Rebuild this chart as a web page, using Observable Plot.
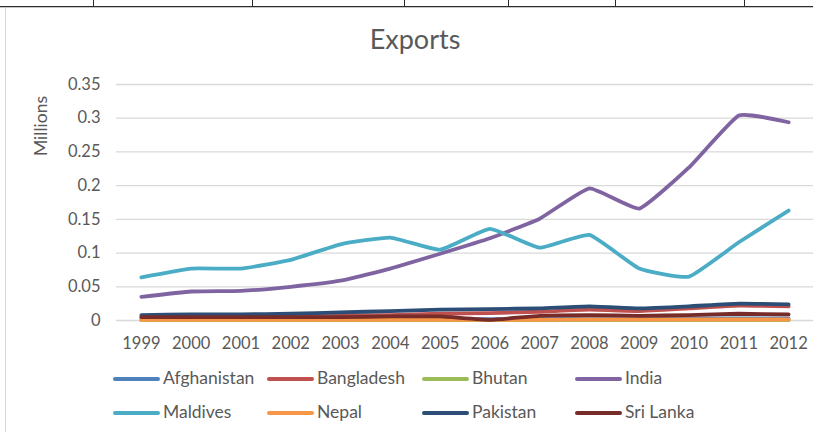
<!DOCTYPE html>
<html>
<head>
<meta charset="utf-8">
<script src="https://cdn.jsdelivr.net/npm/d3@7"></script>
<script src="https://cdn.jsdelivr.net/npm/@observablehq/plot@0.6"></script>
<style>
  html, body { margin: 0; padding: 0; background: #fff; }
  #wrap { position: relative; width: 813px; height: 432px; overflow: hidden; background: #fff; font-family: Lato, "Open Sans", sans-serif; color: #595959; }
  #chart { position: absolute; left: 0; top: 60px; }
  .abs { position: absolute; }
  .leg { position: absolute; font-size: 17.5px; line-height: 18px; white-space: nowrap; }
  .legline { position: absolute; height: 4px; border-radius: 2px; }
</style>
</head>
<body>
<div id="wrap">
  <div class="abs" style="left:0;top:6px;width:813px;height:1px;background:#2b2b2b"></div>
  <div class="abs" style="left:0;top:7px;width:813px;height:1px;background:#c8c8c8"></div>
  <div class="abs" style="left:5px;top:8px;width:1px;height:424px;background:#d9d9d9"></div>
  <div id="ticks"></div>
  <div id="title" class="abs" style="left:0;width:830px;top:23px;text-align:center;font-size:27px;line-height:32px;"></div>
  <div id="ytitle" class="abs" style="left:31px;top:156px;font-size:17.5px;line-height:20px;transform:rotate(-90deg);transform-origin:0 0;white-space:nowrap;"></div>
  <div id="chart"></div>
  <div id="legend"></div>
</div>
<script>
const years = [1999, 2000, 2001, 2002, 2003, 2004, 2005, 2006, 2007, 2008, 2009, 2010, 2011, 2012];
const countries = ["Afghanistan", "Bangladesh", "Bhutan", "India", "Maldives", "Nepal", "Pakistan", "Sri Lanka"];
const colors = ["#4F81BD", "#C0504D", "#9BBB59", "#8064A2", "#4BACC6", "#F79646", "#2C4D75", "#772C2A"];
const afghanistan = [0.001, 0.001, 0.001, 0.001, 0.001, 0.002, 0.002, 0.002, 0.002, 0.003, 0.002, 0.003, 0.003, 0.003];
const bangladesh  = [0.005, 0.005, 0.005, 0.006, 0.007, 0.008, 0.010, 0.011, 0.013, 0.016, 0.014, 0.018, 0.022, 0.021];
const bhutan      = [0.0005, 0.0005, 0.0005, 0.0005, 0.0005, 0.0005, 0.0005, 0.0005, 0.0005, 0.0005, 0.0005, 0.0005, 0.0005, 0.0005];
const india       = [0.035, 0.043, 0.044, 0.050, 0.059, 0.077, 0.099, 0.122, 0.151, 0.196, 0.166, 0.227, 0.304, 0.294];
const maldives    = [0.064, 0.077, 0.077, 0.090, 0.113, 0.123, 0.105, 0.136, 0.108, 0.127, 0.077, 0.065, 0.116, 0.163];
const nepal       = [0.001, 0.001, 0.001, 0.001, 0.001, 0.001, 0.001, 0.001, 0.001, 0.0015, 0.0015, 0.0015, 0.0015, 0.0015];
const pakistan    = [0.008, 0.009, 0.009, 0.010, 0.012, 0.014, 0.016, 0.017, 0.018, 0.021, 0.018, 0.021, 0.025, 0.024];
const sriLanka    = [0.005, 0.005, 0.005, 0.005, 0.005, 0.006, 0.006, 0.001, 0.007, 0.008, 0.007, 0.008, 0.010, 0.009];
const yTicks = [0, 0.05, 0.1, 0.15, 0.2, 0.25, 0.3, 0.35];
const yTickLabels = ["0", "0.05", "0.1", "0.15", "0.2", "0.25", "0.3", "0.35"];
const yTitle = "Millions";
const titleText = "Exports";
const topDividers = [93, 252, 404, 508, 615, 744];

const series = [afghanistan, bangladesh, bhutan, india, maldives, nepal, pakistan, sriLanka];
const data = [];
series.forEach((vals, i) => vals.forEach((v, j) => data.push({country: countries[i], year: years[j], value: v})));

document.getElementById("title").textContent = titleText;
document.getElementById("ytitle").textContent = yTitle;

const tickDiv = document.getElementById("ticks");
topDividers.forEach(x => {
  const d = document.createElement("div");
  d.className = "abs";
  d.style.cssText = `left:${x}px;top:0;width:1px;height:7px;background:#2b2b2b`;
  tickDiv.appendChild(d);
});

const chart = Plot.plot({
  width: 813,
  height: 300,
  marginTop: 24,
  marginBottom: 40,
  marginLeft: 116,
  marginRight: 0,
  style: {fontFamily: "Lato, 'Open Sans', sans-serif", fontSize: "16.5px", color: "#595959", background: "transparent"},
  x: {domain: [1998.5, 2012.5], label: null},
  y: {domain: [0, 0.35], label: null},
  color: {domain: countries, range: colors},
  marks: [
    Plot.gridY(yTicks, {stroke: "#d9d9d9", strokeOpacity: 1, strokeWidth: 1.3}),
    Plot.axisY(yTicks, {tickSize: 0, tickPadding: 16, tickFormat: d => yTickLabels[yTicks.indexOf(d)], fill: "#595959"}),
    Plot.axisX(years, {tickSize: 0, tickPadding: 17, tickFormat: d => String(d), fill: "#595959"}),
    Plot.line(data, {x: "year", y: "value", z: "country", stroke: "country", strokeWidth: 3.8, curve: "cardinal", tension: 0.6, strokeLinecap: "round", strokeLinejoin: "round"})
  ]
});
document.getElementById("chart").appendChild(chart);

// legend
const legCols = [113, 267, 422, 575];
const legRows = [379, 413];
const leg = document.getElementById("legend");
countries.forEach((c, i) => {
  const col = legCols[i % 4], row = legRows[Math.floor(i / 4)];
  const ln = document.createElement("div");
  ln.className = "legline";
  ln.style.cssText = `left:${col}px;top:${row - 2}px;width:47px;background:${colors[i]}`;
  leg.appendChild(ln);
  const t = document.createElement("div");
  t.className = "leg";
  t.style.left = (col + 50) + "px";
  t.style.top = (row - 10) + "px";
  t.textContent = c;
  leg.appendChild(t);
});
</script>
</body>
</html>
